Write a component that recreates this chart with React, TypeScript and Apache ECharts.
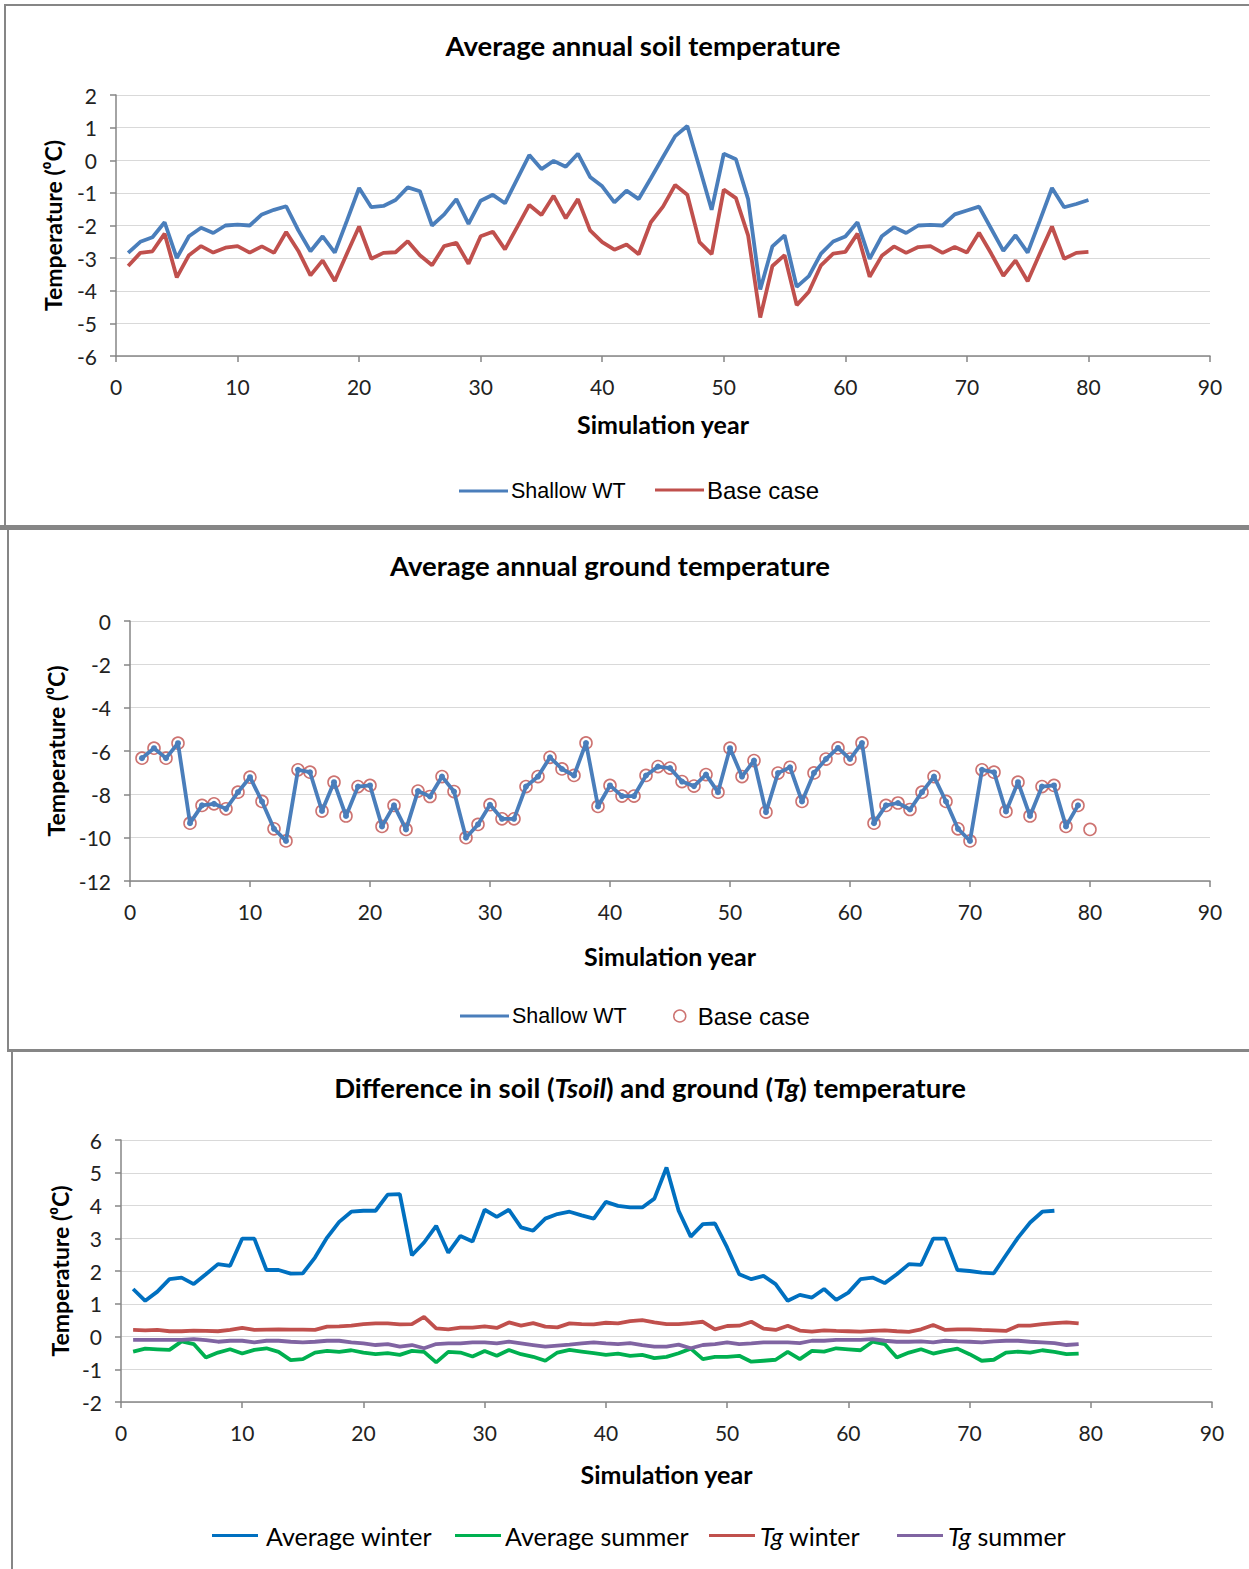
import React, { useEffect, useRef } from "react";
import * as echarts from "echarts";

// ---------- DATA ----------
// Panel 1: Average annual soil temperature (years 1..80)
const soilShallow = [-2.84,-2.5,-2.36,-1.9,-3.0,-2.33,-2.07,-2.23,-2.0,-1.97,-2.0,-1.66,-1.52,-1.41,-2.15,-2.79,-2.33,-2.83,-1.85,-0.85,-1.44,-1.4,-1.22,-0.83,-0.95,-2.0,-1.66,-1.19,-1.95,-1.24,-1.06,-1.32,-0.58,0.16,-0.27,-0.02,-0.2,0.2,-0.51,-0.8,-1.29,-0.93,-1.19,-0.55,0.1,0.74,1.05,-0.22,-1.52,0.2,0.03,-1.19,-3.96,-2.64,-2.3,-3.88,-3.55,-2.86,-2.49,-2.34,-1.9,-3.02,-2.33,-2.05,-2.23,-2.0,-1.98,-2.0,-1.66,-1.54,-1.42,-2.1,-2.78,-2.3,-2.83,-1.85,-0.85,-1.44,-1.34,-1.22];
const soilBase = [-3.24,-2.84,-2.79,-2.25,-3.59,-2.91,-2.63,-2.83,-2.68,-2.63,-2.83,-2.64,-2.84,-2.2,-2.78,-3.53,-3.07,-3.7,-2.86,-2.03,-3.02,-2.84,-2.82,-2.48,-2.91,-3.22,-2.63,-2.53,-3.17,-2.33,-2.19,-2.73,-2.05,-1.37,-1.68,-1.09,-1.78,-1.19,-2.15,-2.51,-2.74,-2.58,-2.88,-1.9,-1.42,-0.76,-1.06,-2.51,-2.88,-0.9,-1.16,-2.3,-4.82,-3.24,-2.91,-4.44,-4.03,-3.22,-2.86,-2.81,-2.25,-3.57,-2.93,-2.64,-2.84,-2.66,-2.63,-2.84,-2.66,-2.83,-2.22,-2.86,-3.54,-3.07,-3.71,-2.86,-2.03,-3.02,-2.84,-2.81];

// Panel 2: Average annual ground temperature
const groundShallow = [-6.33,-5.87,-6.33,-5.64,-9.33,-8.51,-8.44,-8.67,-7.9,-7.21,-8.33,-9.59,-10.15,-6.87,-6.98,-8.77,-7.44,-9.0,-7.64,-7.59,-9.48,-8.51,-9.62,-7.85,-8.1,-7.18,-7.87,-10.0,-9.39,-8.48,-9.13,-9.13,-7.64,-7.18,-6.29,-6.83,-7.13,-5.63,-8.56,-7.59,-8.08,-8.08,-7.13,-6.72,-6.79,-7.41,-7.62,-7.09,-7.9,-5.87,-7.18,-6.44,-8.82,-7.02,-6.75,-8.33,-7.01,-6.37,-5.86,-6.37,-5.63,-9.33,-8.51,-8.4,-8.7,-7.9,-7.18,-8.33,-9.59,-10.15,-6.87,-6.98,-8.79,-7.44,-9.0,-7.64,-7.59,-9.48,-8.51];
const groundBase = [-6.33,-5.87,-6.33,-5.64,-9.33,-8.51,-8.44,-8.67,-7.9,-7.21,-8.33,-9.59,-10.15,-6.87,-6.98,-8.77,-7.44,-9.0,-7.64,-7.59,-9.48,-8.51,-9.62,-7.85,-8.1,-7.18,-7.87,-10.0,-9.39,-8.48,-9.13,-9.13,-7.64,-7.18,-6.29,-6.83,-7.13,-5.63,-8.56,-7.59,-8.08,-8.08,-7.13,-6.72,-6.79,-7.41,-7.62,-7.09,-7.9,-5.87,-7.18,-6.44,-8.82,-7.02,-6.75,-8.33,-7.01,-6.37,-5.86,-6.37,-5.63,-9.33,-8.51,-8.4,-8.7,-7.9,-7.18,-8.33,-9.59,-10.15,-6.87,-6.98,-8.79,-7.44,-9.0,-7.64,-7.59,-9.48,-8.51,-9.62];

// Panel 3: Difference in soil and ground temperature
const avgWinter = [1.45,1.09,1.37,1.75,1.8,1.6,1.9,2.21,2.16,2.99,2.99,2.03,2.03,1.92,1.93,2.41,3.02,3.5,3.81,3.84,3.84,4.33,4.35,2.48,2.87,3.38,2.56,3.07,2.9,3.87,3.65,3.87,3.33,3.23,3.6,3.74,3.81,3.7,3.6,4.11,3.99,3.94,3.94,4.21,5.16,3.84,3.05,3.43,3.45,2.72,1.9,1.75,1.85,1.6,1.09,1.27,1.19,1.45,1.12,1.34,1.75,1.8,1.63,1.9,2.21,2.19,2.99,2.99,2.03,2.0,1.95,1.93,2.48,3.02,3.48,3.81,3.84];
const avgSummer = [-0.46,-0.37,-0.39,-0.41,-0.15,-0.23,-0.64,-0.49,-0.39,-0.52,-0.41,-0.36,-0.47,-0.72,-0.69,-0.49,-0.44,-0.47,-0.42,-0.49,-0.54,-0.51,-0.56,-0.44,-0.47,-0.79,-0.47,-0.49,-0.61,-0.44,-0.59,-0.41,-0.54,-0.62,-0.74,-0.49,-0.41,-0.46,-0.51,-0.56,-0.52,-0.59,-0.56,-0.66,-0.62,-0.51,-0.37,-0.69,-0.62,-0.62,-0.59,-0.77,-0.74,-0.71,-0.47,-0.69,-0.44,-0.46,-0.36,-0.39,-0.42,-0.16,-0.23,-0.64,-0.49,-0.39,-0.52,-0.44,-0.37,-0.54,-0.74,-0.71,-0.49,-0.46,-0.49,-0.42,-0.47,-0.54,-0.52];
const tgWinter = [0.2,0.19,0.2,0.16,0.16,0.18,0.17,0.16,0.2,0.26,0.2,0.21,0.22,0.21,0.21,0.2,0.3,0.31,0.33,0.38,0.4,0.4,0.37,0.38,0.6,0.25,0.22,0.27,0.27,0.31,0.26,0.43,0.33,0.41,0.3,0.28,0.4,0.38,0.37,0.42,0.4,0.47,0.5,0.43,0.38,0.38,0.41,0.45,0.22,0.32,0.33,0.45,0.24,0.2,0.33,0.18,0.15,0.19,0.17,0.16,0.15,0.17,0.19,0.16,0.14,0.22,0.35,0.2,0.22,0.22,0.2,0.19,0.17,0.33,0.33,0.38,0.41,0.43,0.4];
const tgSummer = [-0.1,-0.1,-0.1,-0.1,-0.1,-0.08,-0.11,-0.16,-0.13,-0.13,-0.18,-0.13,-0.13,-0.16,-0.18,-0.16,-0.13,-0.13,-0.18,-0.21,-0.26,-0.23,-0.31,-0.26,-0.36,-0.23,-0.21,-0.21,-0.18,-0.18,-0.21,-0.16,-0.21,-0.26,-0.31,-0.28,-0.25,-0.21,-0.18,-0.21,-0.23,-0.2,-0.26,-0.31,-0.31,-0.25,-0.36,-0.26,-0.23,-0.18,-0.23,-0.21,-0.18,-0.18,-0.18,-0.2,-0.13,-0.13,-0.1,-0.1,-0.1,-0.08,-0.13,-0.16,-0.16,-0.15,-0.18,-0.13,-0.15,-0.16,-0.18,-0.15,-0.13,-0.13,-0.16,-0.18,-0.2,-0.26,-0.23];

// Axis ticks
const xTicks = { min: 0, max: 90, interval: 10 };
const yTicks1 = { min: -6, max: 2, interval: 1 };
const yTicks2 = { min: -12, max: 0, interval: 2 };
const yTicks3 = { min: -2, max: 6, interval: 1 };

// ---------- STYLE ----------
const FONT = 'Lato, "Open Sans", sans-serif';
const LEG_FONT = '"Liberation Sans", Arial, sans-serif';
const AXIS_COLOR = "#868686";
const GRID_COLOR = "#d9d9d9";
const C_BLUE = "#4a7ebb";
const C_RED = "#c0504d";
const C_WIN = "#0070c0";
const C_SUM = "#00b050";
const C_PURPLE = "#8064a2";
const TITLE_SIZE = 27.5;

const toPts = (arr: number[]) => arr.map((v, i) => [i + 1, v]);

function xAxis(nameGap: number) {
  return {
    type: "value",
    ...xTicks,
    name: "Simulation year",
    nameLocation: "middle",
    nameGap,
    nameTextStyle: { fontFamily: FONT, fontWeight: "bold", fontSize: 25, color: "#000" },
    axisLine: { show: true, onZero: false, lineStyle: { color: AXIS_COLOR, width: 1.5 } },
    axisTick: { show: true, length: 6, lineStyle: { color: AXIS_COLOR, width: 1.5 } },
    axisLabel: { fontFamily: FONT, fontSize: 21, color: "#222", margin: 20 },
    splitLine: { show: false },
  };
}

function yAxis(ticks: any, nameGap: number) {
  return {
    type: "value",
    ...ticks,
    name: "Temperature (⁰C)",
    nameLocation: "middle",
    nameGap,
    nameRotate: 90,
    nameTextStyle: { fontFamily: FONT, fontWeight: "bold", fontSize: 23, color: "#000" },
    axisLine: { show: true, lineStyle: { color: AXIS_COLOR, width: 1.5 } },
    axisTick: { show: true, length: 6, lineStyle: { color: AXIS_COLOR, width: 1.5 } },
    axisLabel: { fontFamily: FONT, fontSize: 21, color: "#222", margin: 19 },
    splitLine: { show: true, lineStyle: { color: GRID_COLOR, width: 1.2 } },
  };
}

function titleCfg(text: string, cx: number, top: number) {
  return {
    text,
    left: cx,
    top,
    padding: 0,
    textAlign: "center",
    textStyle: { fontFamily: FONT, fontWeight: "bold", fontSize: TITLE_SIZE, color: "#000" },
  };
}

function lineLegend(name: string, left: number, top: number, fontFamily: string, fontSize: number) {
  return {
    data: [{ name, icon: "rect" }],
    left,
    top,
    padding: 0,
    itemWidth: 49,
    itemHeight: 3,
    itemGap: 0,
    selectedMode: false,
    textStyle: { fontFamily, fontSize, color: "#000", padding: [0, 0, 0, -2] },
  };
}

function option1() {
  return {
    animation: false,
    backgroundColor: "#fff",
    title: titleCfg("Average annual soil temperature", 643, 31),
    grid: { left: 116, right: 39, top: 95, bottom: 169 },
    xAxis: xAxis(55),
    yAxis: yAxis(yTicks1, 52),
    legend: [
      lineLegend("Shallow WT", 459, 480, LEG_FONT, 21.5),
      lineLegend("Base case", 655, 478, LEG_FONT, 24),
    ],
    series: [
      { name: "Shallow WT", type: "line", data: toPts(soilShallow), showSymbol: false, symbol: "none", lineStyle: { color: C_BLUE, width: 3.8 }, itemStyle: { color: C_BLUE } },
      { name: "Base case", type: "line", data: toPts(soilBase), showSymbol: false, symbol: "none", lineStyle: { color: C_RED, width: 3.8 }, itemStyle: { color: C_RED } },
    ],
  };
}

function option2() {
  return {
    animation: false,
    backgroundColor: "#fff",
    title: titleCfg("Average annual ground temperature", 610, 20),
    grid: { left: 130, right: 39, top: 90, bottom: 168 },
    xAxis: xAxis(62),
    yAxis: yAxis(yTicks2, 62),
    legend: [
      lineLegend("Shallow WT", 460, 474, LEG_FONT, 21.5),
      {
        data: [{ name: "Base case", icon: "circle", itemStyle: { color: "rgba(0,0,0,0)", borderColor: C_RED, borderWidth: 1.5 } }],
        left: 673,
        top: 473,
        padding: 0,
        itemWidth: 12,
        itemHeight: 12,
        selectedMode: false,
        textStyle: { fontFamily: LEG_FONT, fontSize: 24, color: "#000", padding: [0, 0, 0, 7] },
      },
    ],
    series: [
      { name: "Shallow WT", type: "line", data: toPts(groundShallow), symbol: "circle", symbolSize: 6, showSymbol: true, lineStyle: { color: C_BLUE, width: 3.8 }, itemStyle: { color: C_BLUE } },
      { name: "Base case", type: "scatter", data: toPts(groundBase), symbol: "circle", symbolSize: 12, itemStyle: { color: "rgba(0,0,0,0)", borderColor: C_RED, borderWidth: 1.6 } },
    ],
  };
}

function option3() {
  const rich = {
    b: { fontFamily: FONT, fontWeight: "bold", fontSize: TITLE_SIZE, color: "#000" },
    bi: { fontFamily: FONT, fontWeight: "bold", fontStyle: "italic", fontSize: TITLE_SIZE, color: "#000" },
  };
  const legRich = {
    i: { fontFamily: FONT, fontStyle: "italic", fontSize: 25, color: "#000" },
    n: { fontFamily: FONT, fontSize: 25, color: "#000" },
  };
  const fmt = (name: string) => (name.startsWith("Tg") ? "{i|Tg}{n|" + name.slice(2) + "}" : "{n|" + name + "}");
  const leg = (name: string, left: number, pad: number) => ({
    data: [{ name, icon: "rect" }],
    left,
    top: 471,
    padding: 0,
    itemWidth: 46,
    itemHeight: 3,
    selectedMode: false,
    formatter: fmt,
    textStyle: { fontFamily: FONT, fontSize: 25, color: "#000", rich: legRich, padding: [0, 0, 0, pad] },
  });
  return {
    animation: false,
    backgroundColor: "#fff",
    title: {
      text: "{b|Difference in soil (}{bi|Tsoil}{b|) and ground (}{bi|Tg}{b|) temperature}",
      left: 650,
      top: 21,
      padding: 0,
      textAlign: "center",
      textStyle: { fontFamily: FONT, fontWeight: "bold", fontSize: TITLE_SIZE, color: "#000", rich },
    },
    grid: { left: 121, right: 37, top: 88, bottom: 167 },
    xAxis: xAxis(59),
    yAxis: yAxis(yTicks3, 50),
    legend: [leg("Average winter", 212, 3), leg("Average summer", 455, -1), leg("Tg winter", 709, 0), leg("Tg summer", 897, 0)],
    series: [
      { name: "Average winter", type: "line", data: toPts(avgWinter), showSymbol: false, symbol: "none", lineStyle: { color: C_WIN, width: 3.8 }, itemStyle: { color: C_WIN } },
      { name: "Average summer", type: "line", data: toPts(avgSummer), showSymbol: false, symbol: "none", lineStyle: { color: C_SUM, width: 3.8 }, itemStyle: { color: C_SUM } },
      { name: "Tg winter", type: "line", data: toPts(tgWinter), showSymbol: false, symbol: "none", lineStyle: { color: C_RED, width: 3.8 }, itemStyle: { color: C_RED } },
      { name: "Tg summer", type: "line", data: toPts(tgSummer), showSymbol: false, symbol: "none", lineStyle: { color: C_PURPLE, width: 3.8 }, itemStyle: { color: C_PURPLE } },
    ],
  };
}

function Chart({ top, height, option }: { top: number; height: number; option: any }) {
  const ref = useRef<HTMLDivElement>(null);
  useEffect(() => {
    if (!ref.current) return;
    const chart = echarts.init(ref.current, undefined, { renderer: "svg" });
    chart.setOption(option);
    return () => chart.dispose();
  }, [option]);
  return <div ref={ref} style={{ position: "absolute", left: 0, top, width: 1249, height }} />;
}

const opt1 = option1();
const opt2 = option2();
const opt3 = option3();

const bar = (left: number, top: number, width: number, height: number) => (
  <div style={{ position: "absolute", left, top, width, height, background: "#868686" }} />
);

export default function App() {
  useEffect(() => {
    document.body.style.margin = "0";
  }, []);
  return (
    <div style={{ position: "relative", width: 1249, height: 1569, background: "#fff", overflow: "hidden" }}>
      <Chart top={0} height={525} option={opt1} />
      <Chart top={531} height={518} option={opt2} />
      <Chart top={1052} height={517} option={opt3} />
      {bar(4, 4, 1245, 2)}
      {bar(4, 4, 2, 522)}
      {bar(0, 525, 1249, 5)}
      {bar(7, 530, 2, 520)}
      {bar(7, 1049, 1242, 3)}
      {bar(11, 1050, 2, 519)}
    </div>
  );
}
